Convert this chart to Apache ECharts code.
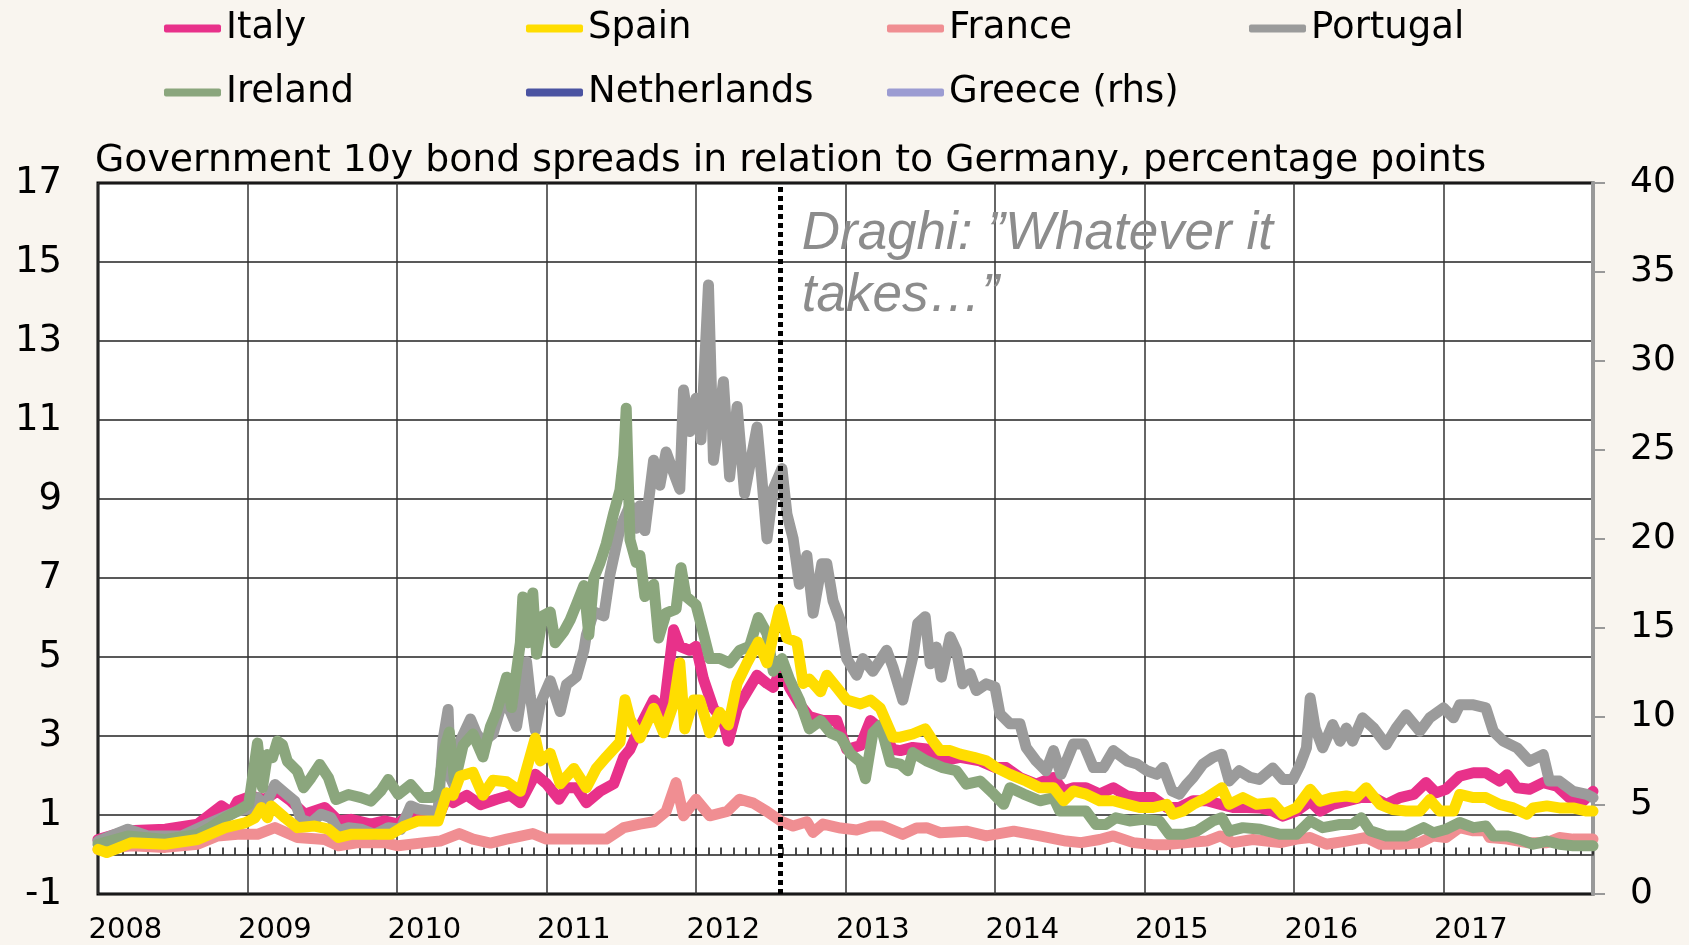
<!DOCTYPE html>
<html><head><meta charset="utf-8">
<script src="https://cdn.jsdelivr.net/npm/echarts@6/dist/echarts.min.js"></script>
<style>html,body{margin:0;padding:0;background:#f9f5ef;}#chart{width:1689px;height:945px;}</style>
</head><body><div id="chart"></div>
<script>
// x values are months since January 2008
const yearLabels = ['2008','2009','2010','2011','2012','2013','2014','2015','2016','2017'];
const seriesNames = ['Italy','Spain','France','Portugal','Ireland','Netherlands','Greece (rhs)'];
const draghiMonth = 54.8;
const draghiText = 'Draghi: \u201DWhatever it\ntakes\u2026\u201D';
const titleText = 'Government 10y bond spreads in relation to Germany, percentage points';

const portugal = [[0,0.34],[2.4,0.64],[4,0.47],[6.7,0.47],[8.8,0.77],[11.2,1.1],[12.1,1.15],[12.8,1.44],[13.4,1.23],[14.2,1.77],[15,1.56],[15.8,1.35],[16.3,0.89],[17.1,0.8],[17.9,1.02],[18.7,0.93],[19.3,0.6],[20.1,0.68],[21.1,0.64],[22.2,0.51],[23.3,0.68],[24.3,0.64],[25.1,1.23],[25.7,1.15],[26.8,1.1],[27.3,1.1],[27.7,2.91],[28.1,3.67],[28.3,1.94],[28.65,1.7],[29.05,2.85],[29.9,3.43],[30.4,3.05],[30.9,2.85],[31.7,3.05],[32.5,3.92],[33.1,3.62],[33.6,3.24],[34.4,4.88],[34.7,4.01],[35.1,3.14],[35.5,3.82],[36.3,4.4],[37.1,3.62],[37.6,4.3],[38.4,4.5],[39,5.17],[39.2,5.56],[39.8,6.14],[40.6,6.04],[41.1,7.1],[41.9,8.26],[42.7,8.84],[43.2,8.26],[43.5,8.83],[43.9,8.2],[44.6,9.98],[45.1,9.35],[45.6,10.19],[46.2,9.67],[46.7,9.25],[47,11.76],[47.5,10.71],[48,11.55],[48.4,10.5],[49,14.42],[49.4,9.98],[50.2,11.97],[50.7,9.56],[51.3,11.34],[51.9,9.14],[52.9,10.82],[53.3,9.46],[53.7,7.99],[54.2,9.25],[54.9,9.77],[55.3,8.62],[55.8,7.99],[56.3,6.84],[56.9,7.57],[57.4,6.11],[58.1,7.36],[58.5,7.36],[59,6.42],[59.6,5.9],[60.1,4.96],[60.9,4.54],[61.4,4.96],[62.2,4.64],[63.3,5.17],[63.8,4.75],[64.6,3.91],[65.4,5.0],[65.8,5.85],[66.4,6.02],[66.8,4.83],[67.3,5.25],[67.7,4.49],[68.4,5.51],[68.9,5.17],[69.4,4.32],[70,4.58],[70.5,4.15],[71.3,4.32],[72,4.24],[72.4,3.56],[73.2,3.31],[74,3.31],[74.5,2.71],[75.3,2.37],[76.1,2.12],[76.7,2.63],[77.3,2.03],[78.3,2.8],[79.1,2.8],[79.9,2.2],[80.7,2.2],[81.5,2.63],[82.6,2.37],[83.4,2.29],[84.2,2.12],[85,2.03],[85.5,2.2],[86.2,1.61],[86.8,1.53],[87.4,1.78],[87.9,1.95],[88.7,2.29],[89.5,2.46],[90.2,2.54],[90.8,1.86],[91.6,2.12],[92.5,1.95],[93.2,1.9],[94.3,2.19],[95.1,1.9],[95.9,1.9],[96.5,2.28],[97,2.7],[97.3,3.96],[97.7,3.2],[98.3,2.7],[99.1,3.29],[99.7,2.87],[100.2,3.2],[100.7,2.87],[101.5,3.46],[102.4,3.2],[103.4,2.78],[104.2,3.2],[105,3.54],[106.1,3.12],[106.9,3.46],[108,3.71],[108.8,3.46],[109.3,3.79],[110.4,3.79],[111.4,3.71],[112,3.12],[112.8,2.87],[113.9,2.7],[114.9,2.36],[116,2.53],[116.5,1.86],[117.3,1.86],[118.4,1.6],[119.5,1.52],[120,1.44]];

const ireland = [[0,0.26],[2.4,0.47],[5.4,0.38],[8,0.51],[9,0.68],[10.2,0.93],[11.2,1.1],[12.1,1.27],[12.8,2.82],[13.2,1.69],[13.6,2.53],[14,2.45],[14.4,2.87],[14.8,2.78],[15.2,2.36],[16,2.11],[16.5,1.69],[17.1,1.94],[17.8,2.28],[18.5,1.94],[19.1,1.39],[20.1,1.52],[21.1,1.44],[21.9,1.35],[22.7,1.61],[23.3,1.9],[24.1,1.52],[25.1,1.77],[26,1.44],[26.8,1.44],[27.3,1.56],[27.7,2.53],[28.2,3.1],[28.6,1.9],[28.9,2.2],[29.3,2.76],[30.1,3.05],[30.9,2.47],[31.5,3.24],[32,3.62],[32.8,4.49],[33.2,3.72],[33.9,5.36],[34.1,6.52],[34.5,5.36],[34.9,6.62],[35.2,5.07],[35.7,6.04],[36.3,6.14],[36.7,5.36],[37.4,5.65],[37.9,5.94],[38.4,6.33],[39,6.81],[39.4,5.56],[39.8,7.0],[40.3,7.39],[40.8,7.87],[41.4,8.65],[41.9,9.23],[42.2,10.1],[42.4,11.3],[42.7,7.97],[43.2,7.39],[43.5,7.57],[43.9,6.53],[44.6,6.84],[45,5.48],[45.6,6.11],[46.4,6.21],[46.8,7.26],[47.2,6.53],[48,6.32],[48.6,5.59],[49.1,4.96],[49.9,4.96],[50.7,4.85],[51.5,5.17],[52.3,5.27],[53,6.0],[53.7,5.59],[54.2,4.64],[54.9,4.96],[55.5,4.44],[56.3,3.91],[57.1,3.18],[58,3.39],[58.8,3.08],[59.6,2.97],[60.4,2.55],[61.2,2.34],[61.6,1.92],[62.2,3.08],[62.8,3.28],[63.6,2.34],[64.4,2.29],[65,2.12],[65.4,2.58],[66.5,2.37],[67.8,2.2],[68.9,2.12],[69.7,1.78],[70.8,1.86],[71.9,1.53],[72.7,1.27],[73.2,1.69],[74.3,1.53],[75.6,1.36],[76.7,1.44],[77.2,1.1],[78.3,1.1],[79.3,1.1],[80.1,0.76],[80.9,0.76],[81.7,0.93],[82.8,0.85],[83.9,0.89],[85.2,0.85],[86,0.51],[87.1,0.51],[88.2,0.59],[89.5,0.85],[90.2,0.93],[90.8,0.59],[91.9,0.68],[93.3,0.64],[94.9,0.51],[96.2,0.51],[97.3,0.85],[98.3,0.68],[99.7,0.76],[100.7,0.76],[101.4,0.93],[102.1,0.6],[103.4,0.47],[105,0.47],[106.4,0.68],[107.2,0.55],[108.2,0.64],[109.3,0.81],[110.4,0.68],[111.4,0.72],[112,0.47],[113.1,0.47],[114.1,0.39],[115.2,0.26],[116.3,0.34],[117.3,0.26],[118.4,0.22],[120,0.22]];

const italy = [[0,0.38],[2.4,0.6],[5.4,0.64],[8,0.77],[9.9,1.23],[10.7,1.06],[11.2,1.35],[12.3,1.48],[13.4,1.39],[14.4,1.61],[15.5,1.35],[16.6,1.02],[18.2,1.19],[19.3,0.85],[20.3,0.89],[21.9,0.77],[23,0.85],[24.1,0.77],[25.1,1.06],[26.2,0.93],[27.3,0.93],[28.1,1.52],[28.5,1.31],[29.6,1.5],[30.7,1.26],[32,1.4],[33.1,1.5],[33.9,1.31],[35.1,2.03],[36,1.79],[37,1.4],[37.6,1.69],[38.4,1.69],[39.2,1.31],[40.3,1.6],[41.4,1.79],[42.2,2.47],[42.7,2.66],[43.5,3.24],[44.6,3.91],[45.4,3.6],[46.2,5.69],[46.7,5.27],[47.5,5.17],[48,5.27],[48.6,4.44],[49.4,3.7],[50.2,3.39],[50.6,2.87],[51.3,3.7],[52.1,4.12],[52.9,4.54],[53.7,4.33],[54.2,4.23],[54.9,4.75],[55.5,4.23],[56.3,3.81],[57.1,3.49],[58.2,3.39],[59.3,3.39],[60.1,2.66],[61.2,2.76],[62,3.39],[62.8,3.18],[63.8,2.66],[64.4,2.63],[65.4,2.71],[66.5,2.67],[67,2.54],[67.8,2.37],[69.2,2.46],[70.8,2.37],[72,2.2],[72.9,2.2],[74,1.95],[75.3,1.78],[76.7,1.95],[77.5,1.61],[78.3,1.69],[79.3,1.69],[80.4,1.53],[81.5,1.69],[82.6,1.48],[83.6,1.44],[84.7,1.44],[85.8,1.19],[86.8,1.19],[87.9,1.36],[89,1.36],[90.1,1.27],[91.1,1.19],[92.2,1.19],[93.3,1.18],[94.3,1.1],[95.1,0.97],[96.2,1.1],[97.3,1.35],[98.1,1.1],[99.1,1.27],[100.2,1.35],[101.3,1.44],[102.4,1.44],[103.4,1.27],[104.5,1.44],[105.6,1.52],[106.6,1.82],[107.4,1.56],[108.2,1.65],[109.3,1.98],[110.4,2.07],[111.4,2.07],[112.5,1.86],[113.1,2.02],[113.9,1.69],[114.9,1.65],[116,1.82],[117.1,1.73],[118.1,1.44],[119.2,1.35],[120,1.6]];

const spain = [[0,0.13],[0.7,0.05],[2.7,0.3],[5.4,0.26],[8,0.38],[10.2,0.68],[11.8,0.8],[12.6,0.93],[13.1,1.19],[13.6,0.93],[13.9,1.23],[15,0.93],[16,0.68],[17.4,0.72],[18.5,0.64],[19.3,0.43],[20.3,0.51],[21.9,0.51],[23.5,0.51],[24.6,0.72],[25.7,0.85],[27.3,0.85],[28,1.56],[28.5,1.5],[29.05,1.98],[30.1,2.08],[30.9,1.5],[31.7,1.88],[32.8,1.84],[33.9,1.6],[35.1,2.95],[35.5,2.37],[36.3,2.56],[37.1,1.79],[38.2,2.18],[39.2,1.69],[40,2.18],[40.8,2.47],[41.9,2.85],[42.3,3.92],[42.7,3.43],[43.5,2.95],[44.6,3.7],[45.4,3.08],[46.2,3.81],[46.7,4.85],[47.1,3.18],[47.8,3.91],[48.3,3.91],[49.1,3.08],[49.9,3.6],[50.6,3.28],[51.3,4.33],[52.1,4.85],[53,5.38],[53.7,4.85],[54.3,5.69],[54.7,6.21],[55.3,5.48],[56.1,5.38],[56.6,4.33],[57.1,4.44],[58,4.12],[58.5,4.54],[59.3,4.23],[60.1,3.91],[61.2,3.81],[62,3.91],[62.8,3.7],[63.8,2.97],[64.4,2.97],[65.4,3.05],[66.4,3.18],[67,2.88],[67.6,2.63],[68.4,2.63],[69.2,2.54],[70.3,2.46],[71.3,2.37],[72.1,2.2],[73.2,2.03],[74.5,1.86],[75.6,1.69],[76.7,1.69],[77.5,1.36],[78.3,1.61],[79.3,1.53],[80.4,1.36],[81.5,1.36],[82.6,1.27],[83.6,1.19],[84.7,1.19],[85.8,1.27],[86.3,1.02],[87.1,1.1],[87.9,1.27],[89,1.44],[90.2,1.69],[90.8,1.27],[91.9,1.44],[93,1.27],[94.3,1.31],[95.1,1.02],[96.2,1.18],[97.3,1.65],[98.1,1.35],[99.1,1.44],[100.2,1.48],[101,1.44],[101.8,1.69],[102.9,1.27],[103.9,1.14],[105,1.1],[106.1,1.1],[106.9,1.39],[107.7,1.1],[108.8,1.1],[109.3,1.52],[110.4,1.44],[111.4,1.44],[112.5,1.27],[113.6,1.18],[114.7,1.02],[115.2,1.18],[116.3,1.23],[117.3,1.18],[118.4,1.18],[119.5,1.1],[120,1.1]];

const france = [[0,0.13],[2.7,0.22],[5.4,0.18],[8,0.26],[9.6,0.47],[11.2,0.51],[12.8,0.51],[14.2,0.68],[16,0.43],[18.2,0.38],[19.3,0.22],[20.9,0.3],[23,0.3],[24.1,0.22],[26.2,0.3],[27.45,0.34],[29,0.53],[30.1,0.39],[31.5,0.29],[32.8,0.39],[34.9,0.53],[36,0.39],[38.2,0.39],[40.8,0.39],[42.2,0.68],[43.5,0.77],[44.6,0.83],[45.6,1.09],[46.4,1.82],[47,0.98],[48,1.4],[49.1,0.98],[50.5,1.09],[51.5,1.4],[52.6,1.3],[53.7,1.09],[54.9,0.83],[55.8,0.72],[56.9,0.83],[57.4,0.56],[58.2,0.77],[59.6,0.67],[60.9,0.62],[62,0.72],[63,0.72],[64.6,0.51],[65.7,0.67],[66.5,0.68],[67.6,0.55],[69.7,0.59],[71.3,0.47],[73.5,0.59],[75.6,0.47],[77.7,0.34],[78.9,0.3],[80.4,0.38],[81.5,0.47],[83.1,0.3],[84.7,0.25],[85.8,0.25],[87.4,0.3],[89,0.34],[90.1,0.47],[91.1,0.3],[92.7,0.38],[94.9,0.3],[96.2,0.39],[97.3,0.43],[98.6,0.26],[100.2,0.34],[101.8,0.43],[102.9,0.26],[104.5,0.26],[106.1,0.3],[107.2,0.47],[108.2,0.43],[109.3,0.68],[110.4,0.6],[111.4,0.6],[111.7,0.43],[113.1,0.39],[114.7,0.3],[116.3,0.3],[117.3,0.43],[118.4,0.39],[120,0.39]];

const netherlands = [];
const greece = [];

const colors = {
  'Italy':'#e8318a','Spain':'#ffdd00','France':'#f08e92','Portugal':'#9b9b9b',
  'Ireland':'#8ba67d','Netherlands':'#4b53a1','Greece (rhs)':'#9c9cd2'
};

const chart = echarts.init(document.getElementById('chart'), null, {renderer:'canvas'});
const numFont = '"DejaVu Sans", Verdana, sans-serif';

function lineSeries(name, data, z, yIdx){
  return {
    name, type:'line', data, xAxisIndex:0, yAxisIndex:yIdx||0,
    showSymbol:false, symbol:'none', z, animation:false,
    lineStyle:{color:colors[name], width:11, cap:'round', join:'round'},
    itemStyle:{color:colors[name]}
  };
}

const legendLefts = [164, 526, 887, 1249, 164, 526, 887];
const legendTops = [10, 10, 10, 10, 74, 74, 74];
const legends = seriesNames.map((n, i) => ({
  left: legendLefts[i], top: legendTops[i], padding: 0, data: [n],
  itemWidth: 57, itemHeight: 8, itemTextGap: 4, icon: 'roundRect', selectedMode: false,
  textStyle: {fontFamily: numFont, fontSize: 37, color: '#000'}
}));

chart.setOption({
  backgroundColor:'#f9f5ef',
  animation:false,
  legend: legends,
  title:{text:titleText, left:95, top:142, padding:0,
    textStyle:{fontFamily:numFont, fontSize:37.8, fontWeight:'normal', color:'#000'}},
  grid:{left:98, right:96, top:183, bottom:48, show:true, backgroundColor:'#fff',
    borderColor:'#000', borderWidth:3},
  xAxis:[
    {type:'value', min:0, max:120, interval:12, position:'bottom',
     axisLine:{onZero:false, show:false},
     axisTick:{show:false},
     splitLine:{show:true, lineStyle:{color:'#333', width:1.5}},
     axisLabel:{customValues:yearLabels.map((y,i)=>i*12+2.2),
       formatter:(v)=>yearLabels[Math.floor(v/12)],
       fontFamily:numFont, fontSize:29, color:'#000', margin:22}},
    {type:'value', min:0, max:120, interval:1, position:'bottom',
     axisLine:{onZero:true, onZeroAxisIndex:0, lineStyle:{color:'#555', width:2}},
     axisTick:{show:true, inside:true, length:7, lineStyle:{color:'#111', width:1.5}},
     axisLabel:{show:false}, splitLine:{show:false}}
  ],
  yAxis:[
    {type:'value', min:-1, max:17, interval:2, position:'left',
     axisLine:{show:false, onZero:false}, axisTick:{show:false},
     splitLine:{show:true, lineStyle:{color:'#222', width:1.5}},
     axisLabel:{fontFamily:numFont, fontSize:37, color:'#000', margin:36}},
    {type:'value', min:0, max:40, interval:5, position:'right',
     axisLine:{show:true, onZero:false, lineStyle:{color:'#999', width:4}},
     axisTick:{show:true, inside:false, length:12, lineStyle:{color:'#999', width:2}},
     splitLine:{show:false},
     axisLabel:{fontFamily:numFont, fontSize:36, color:'#000', margin:37}}
  ],
  series:[
    lineSeries('France', france, 2),
    lineSeries('Italy', italy, 3),
    lineSeries('Portugal', portugal, 4),
    lineSeries('Ireland', ireland, 5),
    lineSeries('Spain', spain, 6),
    lineSeries('Netherlands', netherlands, 1),
    lineSeries('Greece (rhs)', greece, 1, 1),
    {type:'line', data:[], xAxisIndex:0, yAxisIndex:0, z:10, silent:true,
     markLine:{silent:true, symbol:['none','none'], label:{show:false},
       lineStyle:{color:'#000', width:5, type:[5,4]},
       data:[{xAxis:draghiMonth}]}}
  ]
});

const p = chart.convertToPixel({xAxisIndex:0, yAxisIndex:0}, [draghiMonth, 17]);
chart.setOption({
  graphic:[{type:'text', left:p[0]+21, top:p[1]+20, z:20, silent:true,
    style:{text:draghiText, fontFamily:'"Liberation Sans", Arial, sans-serif',
      fontStyle:'italic', fontSize:53, lineHeight:62, fill:'#8c8c8c'}}]
});
</script></body></html>
